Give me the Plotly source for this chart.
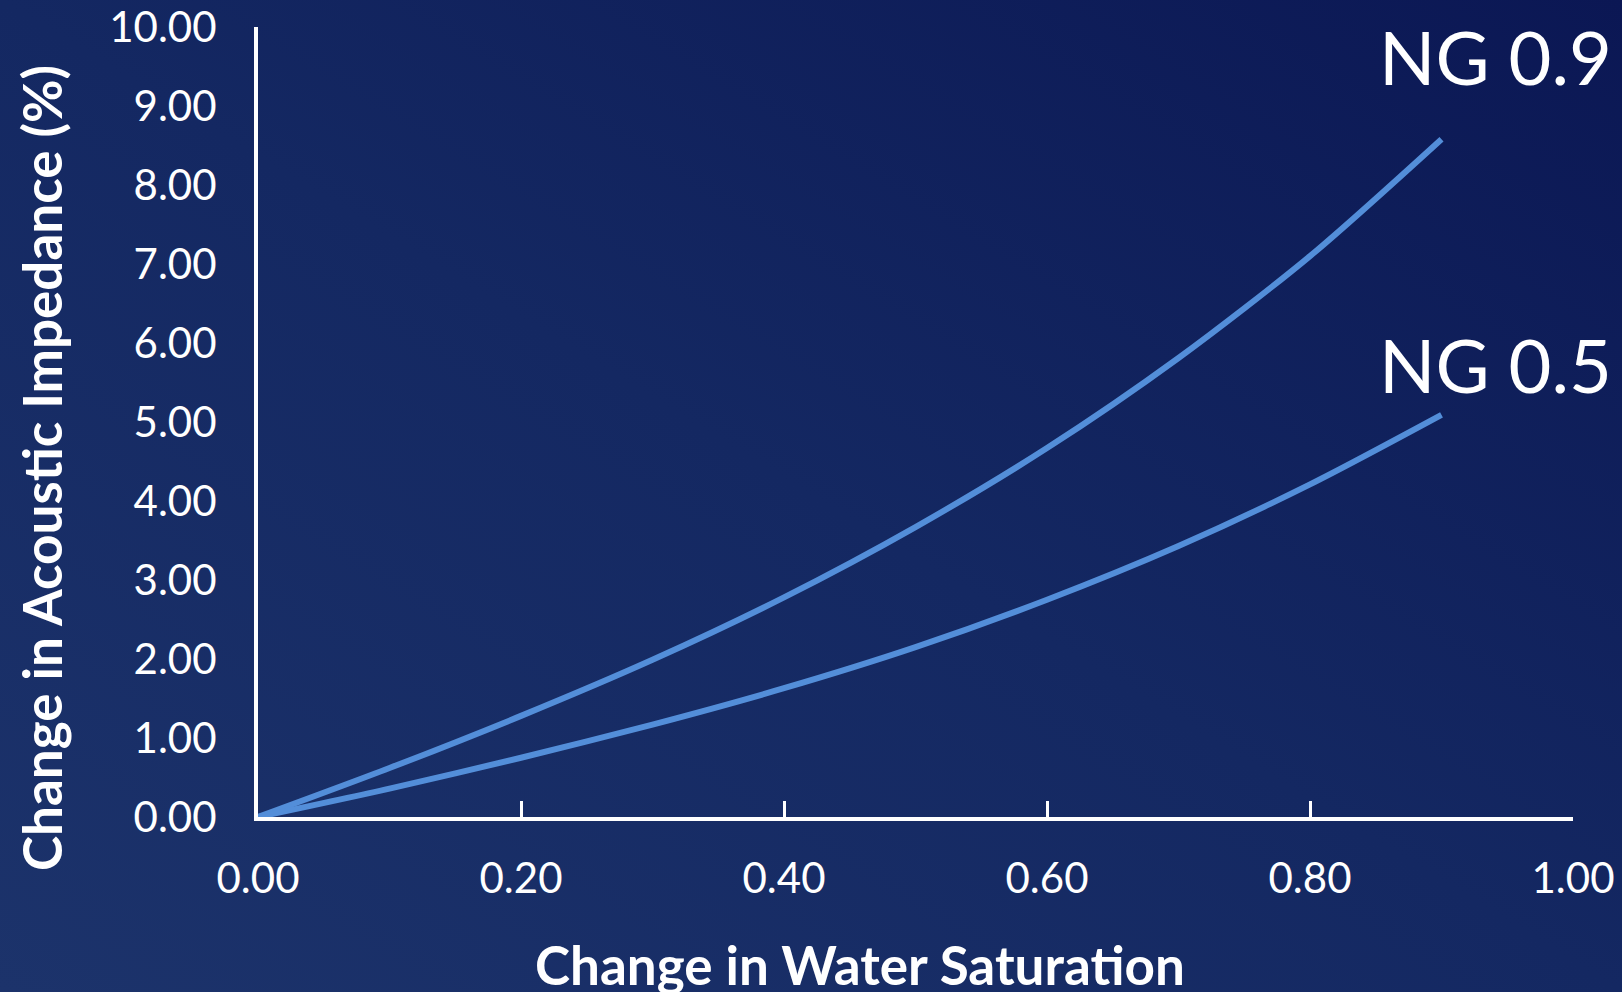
import base64
import plotly.graph_objects as go

# ---- data ----
water_saturation = [0.0, 0.1, 0.2, 0.3, 0.4, 0.5, 0.6, 0.7, 0.8, 0.9]
ng_09 = [0.0, 0.62, 1.28, 1.99, 2.78, 3.67, 4.67, 5.81, 7.10, 8.58]
ng_05 = [0.0, 0.36, 0.75, 1.17, 1.63, 2.15, 2.75, 3.43, 4.21, 5.09]
series_labels = ["NG 0.9", "NG 0.5"]
label_shifts = [36, 4]
x_ticks = [0.0, 0.2, 0.4, 0.6, 0.8, 1.0]
y_ticks = [0, 1, 2, 3, 4, 5, 6, 7, 8, 9, 10]
x_title = "Change in Water Saturation"
y_title = "Change in Acoustic Impedance (%)"

W, H = 1622, 992
L, R, T, B = 258, 49, 27, 175
pw, ph = W - L - R, H - T - B

svg = f'''<svg xmlns="http://www.w3.org/2000/svg" width="{W}" height="{H}" preserveAspectRatio="none">
<defs><linearGradient id="g" x1="0" y1="1" x2="1" y2="0">
<stop offset="0" stop-color="#1c336b"/>
<stop offset="0.5" stop-color="#142862"/>
<stop offset="1" stop-color="#0b1754"/>
</linearGradient></defs>
<rect width="{W}" height="{H}" fill="url(#g)"/></svg>'''
svg_uri = "data:image/svg+xml;base64," + base64.b64encode(svg.encode()).decode()

line_color = "#538ed9"
fig = go.Figure()
for name, ys, shift in zip(series_labels, [ng_09, ng_05], label_shifts):
    fig.add_trace(go.Scatter(
        x=water_saturation, y=ys, mode="lines", name=name,
        line=dict(color=line_color, width=6, shape="spline", smoothing=0.8),
        cliponaxis=False, showlegend=False,
    ))
    fig.add_annotation(
        x=1.0, xref="paper", y=ys[-1], yref="y", text=name, showarrow=False,
        xanchor="right", yanchor="bottom", yshift=shift, xshift=41,
        font=dict(family="Lato", size=74, color="white"),
    )

# axis titles placed as annotations
fig.add_annotation(
    x=(41 - L) / pw, y=(817 - 468) / ph, xref="paper", yref="paper",
    text=f"<b>{y_title}</b>", textangle=-90, showarrow=False,
    xanchor="center", yanchor="middle",
    font=dict(family="Lato", size=53, color="white"),
)
fig.add_annotation(
    x=(860 - L) / pw, y=(817 - 964) / ph, xref="paper", yref="paper",
    text=f"<b>{x_title}</b>", showarrow=False,
    xanchor="center", yanchor="middle",
    font=dict(family="Lato", size=53, color="white"),
)

fig.add_layout_image(dict(
    source=svg_uri, xref="paper", yref="paper",
    x=-L / pw, y=1 + T / ph, sizex=W / pw, sizey=H / ph,
    xanchor="left", yanchor="top", sizing="stretch", layer="below",
))

fig.update_layout(
    width=W, height=H,
    margin=dict(l=L, r=R, t=T, b=B, pad=0, autoexpand=False),
    paper_bgcolor="#142862", plot_bgcolor="rgba(0,0,0,0)",
    font=dict(family="Lato", color="white"),
    xaxis=dict(
        range=[0, 1], tickvals=x_ticks, ticktext=[f"{v:.2f}" for v in x_ticks],
        automargin=False,
        showgrid=False, zeroline=False, showline=True, linecolor="white", linewidth=4,
        ticks="inside", ticklen=16, tickwidth=3, tickcolor="white",
        tickfont=dict(family="Lato", size=42, color="white"),
        ticklabelstandoff=22,
    ),
    yaxis=dict(
        range=[0, 10], tickvals=y_ticks, ticktext=[f"{v:.2f}" for v in y_ticks],
        automargin=False,
        showgrid=False, zeroline=False, showline=True, linecolor="white", linewidth=4,
        ticks="",
        tickfont=dict(family="Lato", size=42, color="white"),
        ticklabelstandoff=29,
    ),
)

fig.write_html(
    "out.html",
    config={"displayModeBar": False},
    post_script="document.body.style.margin='0';document.body.style.overflow='hidden';",
)
